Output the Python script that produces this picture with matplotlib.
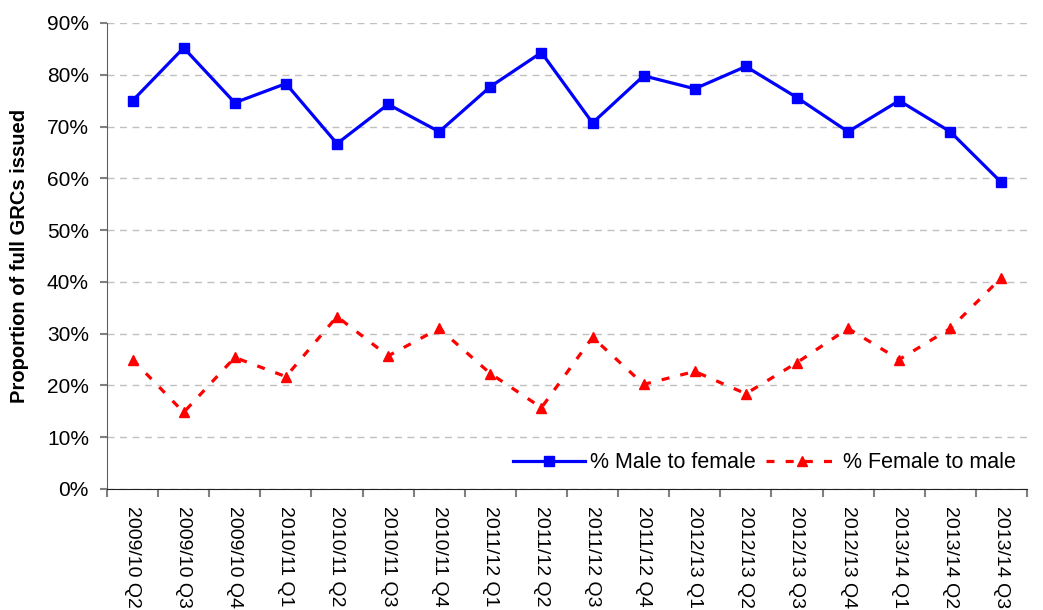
import matplotlib.pyplot as plt
import numpy as np

plt.rcParams['font.family'] = ['Liberation Sans', 'DejaVu Sans']

quarters = ['2009/10 Q2', '2009/10 Q3', '2009/10 Q4',
            '2010/11 Q1', '2010/11 Q2', '2010/11 Q3', '2010/11 Q4',
            '2011/12 Q1', '2011/12 Q2', '2011/12 Q3', '2011/12 Q4',
            '2012/13 Q1', '2012/13 Q2', '2012/13 Q3', '2012/13 Q4',
            '2013/14 Q1', '2013/14 Q2', '2013/14 Q3']
male_to_female = [75.0, 85.2, 74.6, 78.3, 66.7, 74.3, 69.0, 77.7, 84.3,
                  70.7, 79.8, 77.3, 81.6, 75.6, 69.0, 75.0, 69.0, 59.2]
female_to_male = [25.0, 14.8, 25.4, 21.7, 33.3, 25.7, 31.0, 22.3, 15.7,
                  29.3, 20.2, 22.7, 18.4, 24.4, 31.0, 25.0, 31.0, 40.8]

fig = plt.figure(figsize=(10.43, 6.10), dpi=100)
ax = fig.add_axes([0.1026, 0.1984, 0.882, 0.7639])

x = np.arange(len(quarters))
ax.plot(x, male_to_female, color='#0000FF', lw=2.3, marker='s', ms=6.5,
        label='% Male to female', zorder=3)
ax.plot(x, female_to_male, color='#FF0000', lw=2.3, ls=(0, (2.5, 3.5)), marker='^',
        ms=7, label='% Female to male', zorder=3)

ax.set_xlim(-0.5, len(quarters) - 0.5)
ax.set_ylim(0, 90)
ax.set_yticks(range(0, 91, 10))
ax.set_yticklabels([f'{v}%' for v in range(0, 91, 10)], fontsize=15)
ax.yaxis.grid(True, color='#c0c0c0', ls=(0, (5, 4)), lw=1)
ax.set_axisbelow(True)

ax.set_xticks(x)
ax.set_xticklabels(quarters, rotation=270, fontsize=14, va='top', ha='center')
ax.set_xticks(np.arange(-0.5, len(quarters)), minor=True)
ax.tick_params(axis='x', which='major', length=0, pad=12)
ax.tick_params(axis='x', which='minor', length=6, color='#808080', width=1.5)
ax.tick_params(axis='y', length=5, color='#808080', width=1.5, pad=8)

for s in ['top', 'right']:
    ax.spines[s].set_visible(False)
ax.spines['left'].set_color('#606060')
ax.spines['bottom'].set_color('#202020')

ax.set_ylabel('Proportion of full GRCs issued', fontsize=14.5, fontweight='bold', labelpad=13)

ax.legend(loc='center right', bbox_to_anchor=(1.004, 0.056), ncol=2, frameon=False,
          fontsize=15.5, handlelength=3.35, handletextpad=0.2, columnspacing=0.5,
          borderpad=0.2)

fig.savefig('out.png', dpi=100)
